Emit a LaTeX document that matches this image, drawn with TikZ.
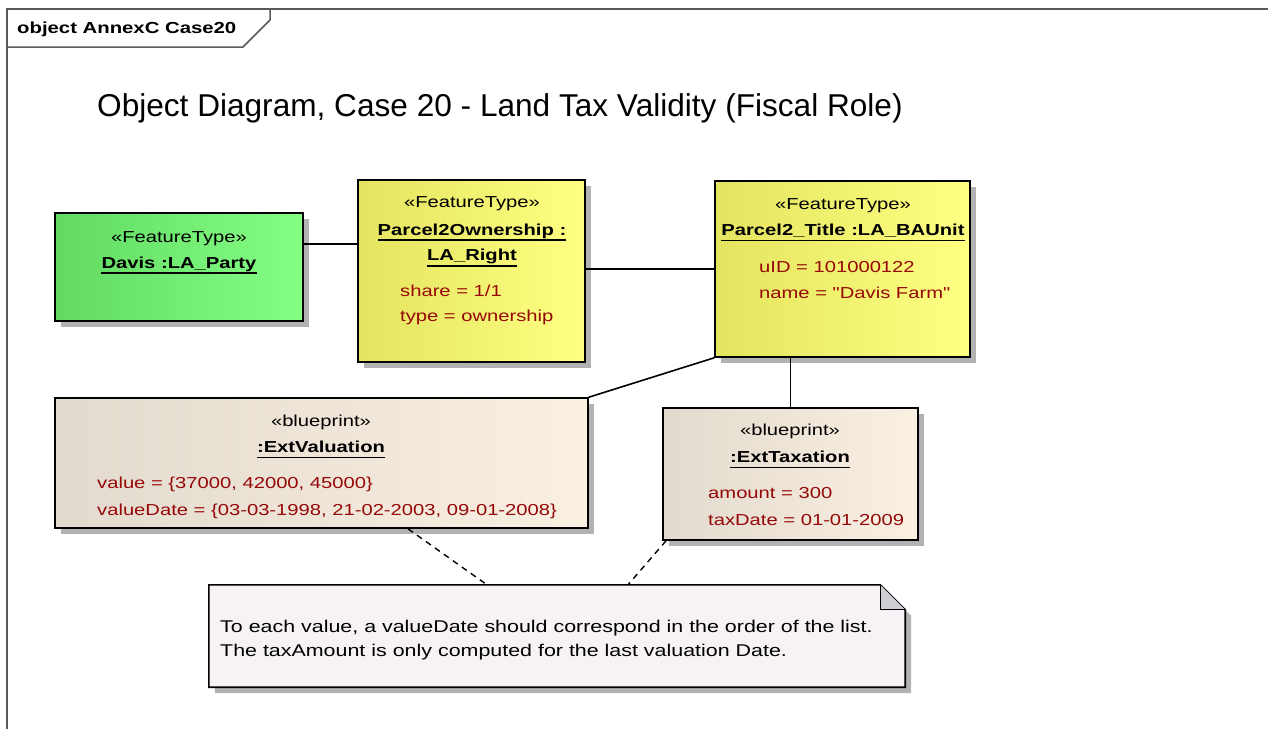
\documentclass[tikz,border=0pt]{standalone}
\usepackage{fontspec}
\setmainfont{Liberation Sans}
\newfontfamily\boxfont[FakeStretch=1.27]{Liberation Sans}
\newfontfamily\notefont[FakeStretch=1.26]{Liberation Sans}
\usetikzlibrary{calc,shadows}

\definecolor{framegray}{RGB}{90,90,90}
\definecolor{shadowgray}{RGB}{178,178,178}
\definecolor{greenL}{RGB}{98,218,98}
\definecolor{greenR}{RGB}{132,255,132}
\definecolor{yellowL}{RGB}{228,228,96}
\definecolor{yellowR}{RGB}{255,255,130}
\definecolor{beigeL}{RGB}{226,218,206}
\definecolor{beigeR}{RGB}{250,240,226}
\definecolor{notefill}{RGB}{246,242,246}
\definecolor{foldgray}{RGB}{208,206,212}
\definecolor{attrred}{RGB}{150,8,8}

\begin{document}
\begin{tikzpicture}[x=1pt,y=-1pt,
  objbox/.style={draw=black, line width=1.6pt, inner sep=0pt, shading=axis,
    drop shadow={shadow xshift=6pt, shadow yshift=-6pt, opacity=1, fill=shadowgray}},
  greenbox/.style={objbox, left color=greenL, right color=greenR},
  yellowbox/.style={objbox, left color=yellowL, right color=yellowR},
  beigebox/.style={objbox, left color=beigeL, right color=beigeR},
  stereo/.style={inner sep=0pt, anchor=base, font=\boxfont\fontsize{15.9}{18}\selectfont},
  objname/.style={inner sep=0pt, anchor=base, font=\boxfont\bfseries\fontsize{15.9}{18}\selectfont},
  attr/.style={inner sep=0pt, anchor=base west, text=attrred, font=\boxfont\fontsize{15.9}{18}\selectfont},
  ul/.style={line width=1.4pt},
  link/.style={line width=1.6pt},
  notelink/.style={line width=1.4pt, dash pattern=on 6pt off 5pt}
]
\useasboundingbox (0,0) rectangle (1268,729);

% diagram frame with its name tab
\draw[framegray, line width=1.5pt] (7,729) -- (7,9) -- (1268,9);
\draw[framegray, line width=1.5pt] (270,9) -- (270,20) -- (243,47) -- (7,47);
\node[inner sep=0pt, anchor=base west, font=\boxfont\bfseries\fontsize{16}{18}\selectfont] (framename) at (17,33) {object AnnexC Case20};

% heading
\node[inner sep=0pt, anchor=base west, font=\fontsize{31.6}{36}\selectfont] (heading) at (97,116) {Object Diagram, Case 20 - Land Tax Validity (Fiscal Role)};

% object boxes
\node[greenbox, minimum width=248pt, minimum height=108pt] (davis) at (179,267) {};
\node[yellowbox, minimum width=227pt, minimum height=182pt] (own) at (471.5,271) {};
\node[yellowbox, minimum width=255pt, minimum height=176pt] (title) at (842.5,269) {};
\node[beigebox, minimum width=533pt, minimum height=130pt] (val) at (321.5,463) {};
\node[beigebox, minimum width=255pt, minimum height=132pt] (tax) at (790.5,474) {};

% note with folded corner
\node[inner sep=0pt, minimum width=696pt, minimum height=102pt] (note) at (557,636) {};
\fill[shadowgray] ($(note.north west)+(6,6)$) -- ($(note.north east)+(-19,6)$) -- ($(note.north east)+(6,31)$) -- ($(note.south east)+(6,6)$) -- ($(note.south west)+(6,6)$) -- cycle;
\filldraw[fill=notefill, draw=black, line width=1.6pt] (note.north west) -- ($(note.north east)+(-25,0)$) -- ($(note.north east)+(0,25)$) -- (note.south east) -- (note.south west) -- cycle;
\filldraw[fill=foldgray, draw=black, line width=1.3pt] ($(note.north east)+(-25,0)$) -- ($(note.north east)+(-25,25)$) -- ($(note.north east)+(0,25)$);

% Davis
\node[stereo] (davisS) at (179,242) {«FeatureType»};
\node[objname] (davisN) at (179,268) {Davis :LA\_Party};
\draw[ul] ([yshift=-5pt]davisN.base west) -- ([yshift=-5pt]davisN.base east);

% Parcel2Ownership
\node[stereo] (ownS) at (472,207) {«FeatureType»};
\node[objname] (ownN1) at (472,235) {Parcel2Ownership :};
\node[objname] (ownN2) at (472,260) {LA\_Right};
\draw[ul] ([yshift=-5pt]ownN1.base west) -- ([yshift=-5pt]ownN1.base east);
\draw[ul] ([yshift=-6pt]ownN2.base west) -- ([yshift=-6pt]ownN2.base east);
\node[attr] (ownA1) at (400,296) {share = 1/1};
\node[attr] (ownA2) at (400,321) {type = ownership};

% Parcel2_Title
\node[stereo] (titleS) at (843,209) {«FeatureType»};
\node[objname] (titleN) at (843,235) {Parcel2\_Title :LA\_BAUnit};
\draw[ul] ([yshift=-5.5pt]titleN.base west) -- ([yshift=-5.5pt]titleN.base east);
\node[attr] (titleA1) at (759,272) {uID = 101000122};
\node[attr] (titleA2) at (759,298) {name = "Davis Farm"};

% ExtValuation
\node[stereo] (valS) at (321,426) {«blueprint»};
\node[objname] (valN) at (321,452) {:ExtValuation};
\draw[ul] ([yshift=-5.5pt]valN.base west) -- ([yshift=-5.5pt]valN.base east);
\node[attr] (valA1) at (97,488) {value = \{37000, 42000, 45000\}};
\node[attr] (valA2) at (97,515) {valueDate = \{03-03-1998, 21-02-2003, 09-01-2008\}};

% ExtTaxation
\node[stereo] (taxS) at (790,435) {«blueprint»};
\node[objname] (taxN) at (790,462) {:ExtTaxation};
\draw[ul] ([yshift=-5.5pt]taxN.base west) -- ([yshift=-5.5pt]taxN.base east);
\node[attr] (taxA1) at (708,498) {amount = 300};
\node[attr] (taxA2) at (708,525) {taxDate = 01-01-2009};

% note text
\node[inner sep=0pt, anchor=base west, font=\notefont\fontsize{17}{20}\selectfont] (noteL1) at (220,632) {To each value, a valueDate should correspond in the order of the list.};
\node[inner sep=0pt, anchor=base west, font=\notefont\fontsize{17}{20}\selectfont] (noteL2) at (220,656) {The taxAmount is only computed for the last valuation Date.};

% links between objects
\draw[link] (davis.east |- 0,244) -- (own.west |- 0,244);
\draw[link] (own.east |- 0,269) -- (title.west |- 0,269);
\draw[link] (title.south west) -- (val.north east);
\draw[link] (tax.north) -- (tax.north |- title.south);

% note attachments
\draw[notelink] (val.south -| 408,0) -- (note.north -| 487,0);
\draw[notelink] (tax.south -| 666,0) -- (note.north -| 628,0);
\end{tikzpicture}
\end{document}
